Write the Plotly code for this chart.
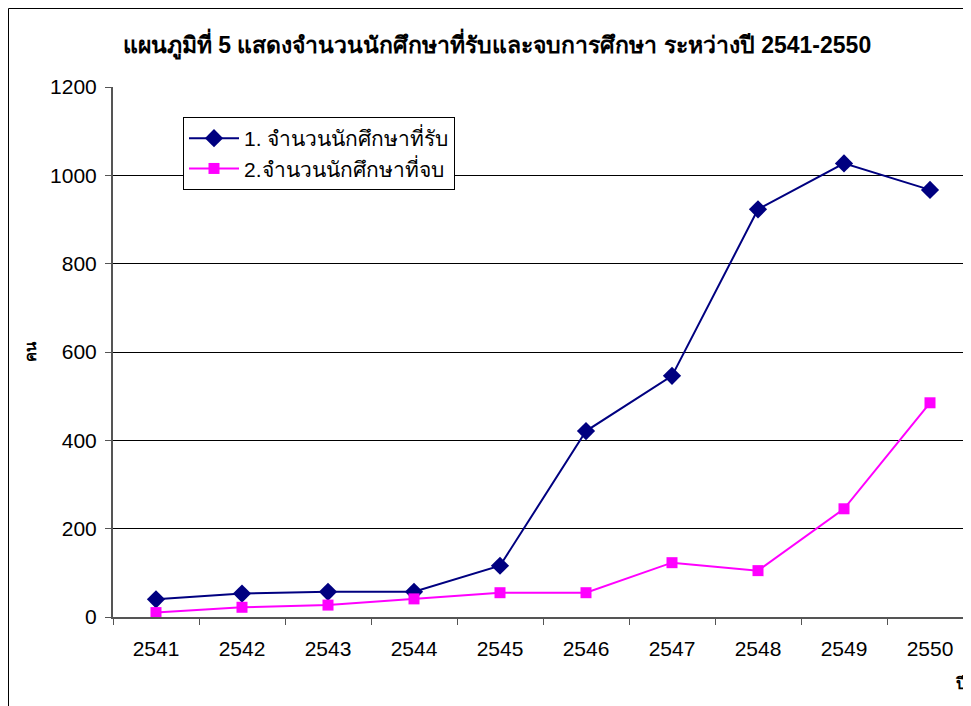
import plotly.graph_objects as go

years = ["2541", "2542", "2543", "2544", "2545", "2546", "2547", "2548", "2549", "2550"]
admitted = [40, 53, 57, 57, 116, 421, 546, 923, 1027, 967]
graduated = [10, 22, 27, 41, 55, 55, 123, 105, 245, 485]
y_ticks = [0, 200, 400, 600, 800, 1000, 1200]

font_family = "Arial, Liberation Sans, Noto Sans, sans-serif"

# page is offset by the 8px body margin; plot area in page px: x 113..973, y 87..617
L, T, R, B = 105, 79, 965, 609
W, H = 971, 706
PW, PH = R - L, B - T

fig = go.Figure()
fig.add_trace(go.Scatter(
    x=years, y=admitted, mode="lines+markers",
    name="1. จำนวนนักศึกษาที่รับ",
    line=dict(color="#000080", width=2),
    marker=dict(symbol="diamond", size=14, color="#000080"),
))
fig.add_trace(go.Scatter(
    x=years, y=graduated, mode="lines+markers",
    name="2.จำนวนนักศึกษาที่จบ",
    line=dict(color="#FF00FF", width=2),
    marker=dict(symbol="square", size=11, color="#FF00FF"),
))

fig.update_layout(
    width=W, height=H,
    margin=dict(l=L, r=W - R, t=T, b=H - B),
    paper_bgcolor="white", plot_bgcolor="white",
    font=dict(family=font_family, size=18, color="black"),
    title=dict(
        text="<b>แผนภูมิที่ 5 แสดงจำนวนนักศึกษาที่รับและจบการศึกษา ระหว่างปี 2541-2550</b>",
        x=489 / W, xanchor="center", y=1 - 37 / H, yanchor="middle",
        font=dict(size=23, color="black", family=font_family),
    ),
    legend=dict(
        x=(183 - 113) / PW, y=(617 - 117) / PH, xanchor="left", yanchor="top",
        bgcolor="white", bordercolor="black", borderwidth=1,
        font=dict(size=21, color="black", family=font_family),
        tracegroupgap=0, itemwidth=50,
    ),
    showlegend=True,
)

fig.update_xaxes(
    type="category", tickson="boundaries", ticks="outside", ticklen=6,
    tickcolor="#555555", showline=True, linecolor="#555555", linewidth=2,
    showgrid=False, tickfont=dict(size=21, color="black"),
    ticklabelstandoff=12,
    range=[-0.5, 9.5],
)
fig.update_yaxes(
    range=[0, 1200], tickvals=y_ticks, ticks="outside", ticklen=6,
    tickcolor="#555555", showline=True, linecolor="#555555", linewidth=2,
    showgrid=True, gridcolor="black", gridwidth=1, zeroline=False,
    tickfont=dict(size=21, color="black"),
    ticklabelstandoff=4,
    title=dict(text="<b>คน</b>", font=dict(size=15, color="black"), standoff=10),
)

fig.add_annotation(
    text="<b>ปี</b>", xref="paper", yref="paper",
    x=(945 - L) / PW, y=(B - 675) / PH, xanchor="left", yanchor="middle",
    showarrow=False, font=dict(size=16, color="black"),
)

fig.add_shape(
    type="rect", xref="paper", yref="paper",
    x0=(0.5 - L) / PW, x1=(980 - L) / PW,
    y0=(B - 715) / PH, y1=(B - 0.5) / PH,
    line=dict(color="black", width=1), fillcolor="rgba(0,0,0,0)", layer="below",
)

fig.write_html("out.html")
